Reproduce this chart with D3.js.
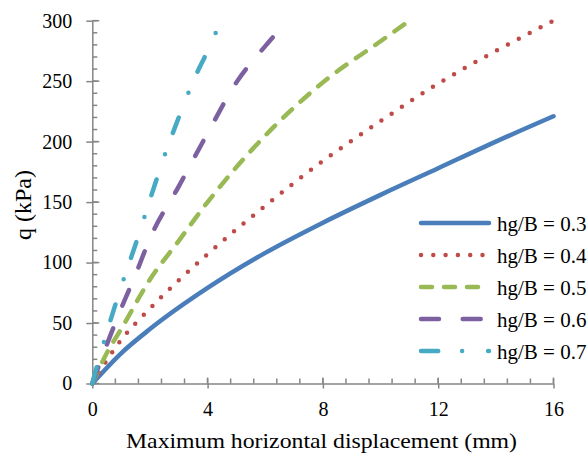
<!DOCTYPE html>
<html>
<head>
<meta charset="utf-8">
<script src="https://cdn.jsdelivr.net/npm/d3@7"></script>
<style>
  body { margin: 0; background: #fff; }
</style>
</head>
<body>
<script>
// values
var series = ["hg/B = 0.3", "hg/B = 0.4", "hg/B = 0.5", "hg/B = 0.6", "hg/B = 0.7"];
var x03 = [0, 1, 2, 4, 6, 8, 10, 12, 14, 16];
var q03 = [0, 25, 45, 79, 108, 133, 156, 178, 200, 221];
var x04 = [0, 1, 2, 4, 6, 8, 10, 12, 14, 16];
var q04 = [0, 36, 62, 107, 147, 184, 217, 248, 275, 300];
var x05 = [0, 0.5, 1, 2, 3, 4, 6, 8, 10, 11];
var q05 = [0, 25, 45, 86, 118, 150, 205, 249, 283, 300];
var x06 = [0, 0.5, 1, 1.5, 2, 3, 4, 5, 6, 6.4];
var q06 = [0, 32, 62, 90, 120, 163, 207, 249, 279, 290];
var x07 = [0, 0.25, 0.5, 1, 1.5, 2, 2.5, 3, 3.5, 4, 4.3];
var q07 = [0, 22, 42, 80, 115, 152, 188, 220, 250, 275, 291];
var xTicks = [0, 4, 8, 12, 16];
var yTicks = [0, 50, 100, 150, 200, 250, 300];

var colors = ["#4A7EBB", "#BE4B48", "#98B954", "#7D60A0", "#46AAC5"];
var dashes = [null, "0 12.3", "12 11.5", "17 24.7", "16.5 24.3 0 26.2"];
var legendDashes = [null, "0 12.3", "11 12", "18 23.7", "17.2 23.9 0 26"];
var serif = "'Liberation Serif', 'Times New Roman', serif"

var svg = d3.select("body").append("svg")
    .attr("width", 587)
    .attr("height", 456)

var x = d3.scaleLinear().domain([0, 16]).range([92.3, 553.5])
var y = d3.scaleLinear().domain([0, 300]).range([383.5, 20.7])
var axisColor = "#868686"

// minor ticks (inside)
var xMinor = d3.range(0, 16.01, 0.8)
var yMinor = d3.range(0, 300.1, 10)
svg.append("g").selectAll("line").data(xMinor).enter().append("line")
    .attr("x1", d => x(d)).attr("x2", d => x(d))
    .attr("y1", y(0)).attr("y2", y(0) - 5)
    .attr("stroke", axisColor).attr("stroke-width", 1.5)
svg.append("g").selectAll("line").data(yMinor).enter().append("line")
    .attr("x1", x(0)).attr("x2", x(0) + 5)
    .attr("y1", d => y(d)).attr("y2", d => y(d))
    .attr("stroke", axisColor).attr("stroke-width", 1.5)
// inner half of major ticks
svg.append("g").selectAll("line").data(xTicks).enter().append("line")
    .attr("x1", d => x(d)).attr("x2", d => x(d))
    .attr("y1", y(0)).attr("y2", y(0) - 6)
    .attr("stroke", axisColor).attr("stroke-width", 1.5)
svg.append("g").selectAll("line").data(yTicks).enter().append("line")
    .attr("x1", x(0)).attr("x2", x(0) + 7)
    .attr("y1", d => y(d)).attr("y2", d => y(d))
    .attr("stroke", axisColor).attr("stroke-width", 1.5)

var xAxis = d3.axisBottom(x).tickValues(xTicks).tickSizeInner(5).tickSizeOuter(0).tickPadding(13)
var yAxis = d3.axisLeft(y).tickValues(yTicks).tickSizeInner(6).tickSizeOuter(0).tickPadding(14)

svg.append("g")
    .attr("transform", "translate(0," + y(0) + ")")
    .call(xAxis)
svg.append("g")
    .attr("transform", "translate(" + x(0) + ",0)")
    .call(yAxis)
svg.selectAll(".domain, .tick line").attr("stroke", axisColor).attr("stroke-width", 1.5)
svg.selectAll(".tick text")
    .style("font-family", serif)
    .style("font-size", "20px")
    .attr("fill", "#000")

// series lines
var xs = [x03, x04, x05, x06, x07]
var qs = [q03, q04, q05, q06, q07]
var line = d3.line()
    .x(d => x(d[0]))
    .y(d => y(d[1]))
    .curve(d3.curveMonotoneX)

series.forEach(function(name, i) {
  var pts = xs[i].map((v, j) => [v, qs[i][j]])
  var p = svg.append("path")
      .datum(pts)
      .attr("d", line)
      .attr("fill", "none")
      .attr("stroke", colors[i])
      .attr("stroke-width", 4.5)
      .attr("stroke-linecap", "round")
      .attr("stroke-linejoin", "round")
      .attr("stroke-dasharray", dashes[i])
  if (i == 4) {
    // dash-dot: stretch period so the 6th dot sits just before the line end, as in the picture
    var L = p.node().getTotalLength()
    var per = (L - 1.5 - 43) / 5
    p.attr("stroke-dasharray", [16.5, 43 - 16.5, 0, per - 43].join(" "))
  }
})

// legend
var legend = svg.append("g")
var rowY = [223, 255, 287, 319, 351]
series.forEach(function(name, i) {
  legend.append("line")
      .attr("x1", 421).attr("x2", 489)
      .attr("y1", rowY[i]).attr("y2", rowY[i])
      .attr("stroke", colors[i])
      .attr("stroke-width", 4.5)
      .attr("stroke-linecap", "round")
      .attr("stroke-dasharray", legendDashes[i])
  legend.append("text")
      .attr("x", 497)
      .attr("y", rowY[i] + 7.5)
      .style("font-family", serif)
      .style("font-size", "21px")
      .text(name)
})

// axis titles
svg.append("text")
    .attr("x", 126)
    .attr("y", 448)
    .attr("textLength", 391)
    .attr("lengthAdjust", "spacingAndGlyphs")
    .style("font-family", serif)
    .style("font-size", "22px")
    .text("Maximum horizontal displacement (mm)")
svg.append("text")
    .attr("transform", "translate(31,205) rotate(-90)")
    .attr("text-anchor", "middle")
    .style("font-family", serif)
    .style("font-size", "24px")
    .text("q (kPa)")
</script>
</body>
</html>
